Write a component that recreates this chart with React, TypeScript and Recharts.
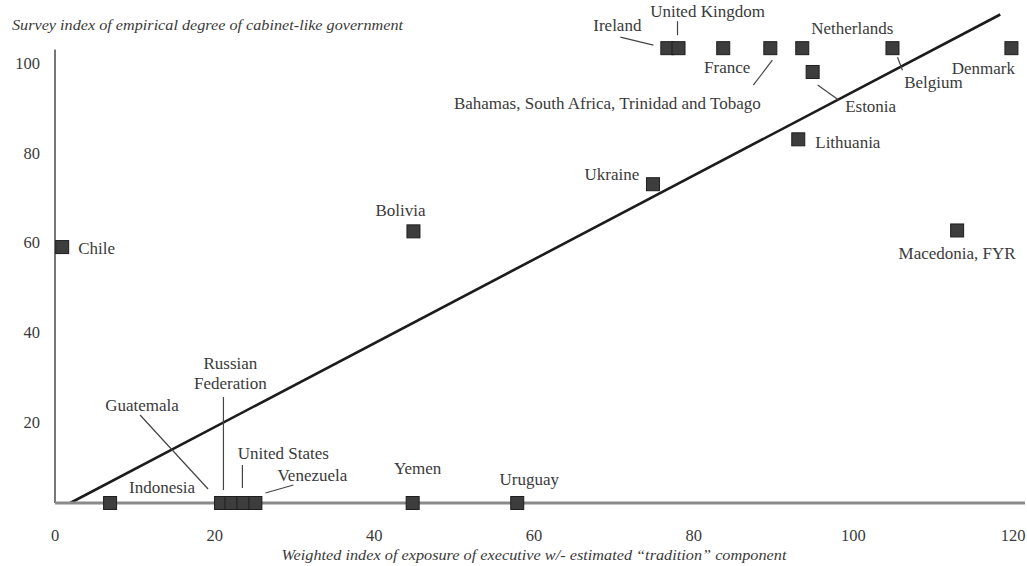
import { ScatterChart, Scatter, XAxis, YAxis, ReferenceLine } from 'recharts'

// countries
const countries = [
  'Chile', 'Indonesia', 'Guatemala', 'Russian Federation', 'United States', 'Venezuela',
  'Yemen', 'Uruguay', 'Bolivia', 'Ukraine', 'Lithuania', 'Macedonia, FYR', 'Estonia',
  'Ireland', 'United Kingdom', 'France', 'Bahamas, South Africa, Trinidad and Tobago',
  'Netherlands', 'Belgium', 'Denmark',
]
// weighted index of exposure of executive (x)
const exposure = [0.9, 6.9, 20.8, 22.1, 23.6, 25.1, 44.8, 57.9, 44.9, 74.9, 93.1, 113, 94.9, 76.7, 78.1, 83.7, 89.6, 93.6, 104.9, 119.8]
// survey index of cabinet-like government (y)
const cabinetIndex = [59, 2, 2, 2, 2, 2, 2, 2, 62.5, 73, 83, 62.7, 98, 103.3, 103.3, 103.3, 103.3, 103.3, 103.3, 103.3]

const xTicks = [0, 20, 40, 60, 80, 100, 120]
const yTicks = [20, 40, 60, 80, 100]
const fitLine = [{ x: 1.9, y: 2 }, { x: 118.4, y: 110.8 }]

const data = countries.map((name, i) => ({ name, x: exposure[i], y: cabinetIndex[i] }))

const FONT = '"Liberation Serif", "Times New Roman", serif'
const INK = '#3a3a3a'

type Spot = { dx: number; dy: number; anchor?: 'start' | 'middle' | 'end'; lines?: string[]; lead?: number[] }

// where each name sits relative to its marker (px)
const labelSpots: Record<string, Spot> = {
  'Chile': { dx: 16, dy: 1, anchor: 'start' },
  'Indonesia': { dx: 52, dy: -16 },
  'Guatemala': { dx: -79, dy: -98, lead: [-81, -88, -13, -14] },
  'Russian Federation': { dx: -1, dy: -140, lines: ['Russian', 'Federation'], lead: [-8, -106, -8, -13] },
  'United States': { dx: 40, dy: -50, lead: [-1, -38, -1, -15] },
  'Venezuela': { dx: 57, dy: -28, lead: [10, -10, 38, -18] },
  'Yemen': { dx: 5, dy: -35 },
  'Uruguay': { dx: 12, dy: -24 },
  'Bolivia': { dx: -13, dy: -21 },
  'Ukraine': { dx: -41, dy: -10 },
  'Lithuania': { dx: 17, dy: 3, anchor: 'start' },
  'Macedonia, FYR': { dx: 0, dy: 23 },
  'Estonia': { dx: 58, dy: 35, lead: [5, 13, 26, 28] },
  'Ireland': { dx: -50, dy: -23, lead: [-47, -11, -14, -3] },
  'United Kingdom': { dx: 29, dy: -37, lead: [-1, -27, -1, -13] },
  'France': { dx: 4, dy: 19 },
  'Bahamas, South Africa, Trinidad and Tobago': { dx: -163, dy: 55, lead: [2, 12, -17, 37] },
  'Netherlands': { dx: 50, dy: -20 },
  'Belgium': { dx: 41, dy: 34, lead: [5, 9, 10, 22] },
  'Denmark': { dx: -28, dy: 20 },
}

function Marker(props: any) {
  const { cx, cy, payload } = props
  const spot = labelSpots[payload.name]
  const lines = spot?.lines ?? [payload.name]
  return (
    <g>
      {spot?.lead && (
        <line
          x1={cx + spot.lead[0]} y1={cy + spot.lead[1]}
          x2={cx + spot.lead[2]} y2={cy + spot.lead[3]}
          stroke="#444" strokeWidth={1.2}
        />
      )}
      <rect x={cx - 6.5} y={cy - 6.5} width={13} height={13} fill="#3d3d3d" stroke="#1e1e1e" strokeWidth={1} />
      {spot && lines.map((t, k) => (
        <text
          key={k}
          x={cx + spot.dx}
          y={cy + spot.dy + k * 20}
          textAnchor={spot.anchor ?? 'middle'}
          dominantBaseline="central"
          fontFamily={FONT}
          fontSize={17}
          fill={INK}
        >
          {t}
        </text>
      ))}
    </g>
  )
}

function YTitle() {
  return (
    <text x={12} y={25} dominantBaseline="central" fontFamily={FONT} fontStyle="italic" fontSize={15}
      fill={INK} textLength={391} lengthAdjust="spacingAndGlyphs">
      Survey index of empirical degree of cabinet-like government
    </text>
  )
}

function XTitle() {
  return (
    <text x={534} y={555} textAnchor="middle" dominantBaseline="central" fontFamily={FONT} fontStyle="italic"
      fontSize={14} fill={INK} textLength={505} lengthAdjust="spacingAndGlyphs">
      Weighted index of exposure of executive w/- estimated “tradition” component
    </text>
  )
}

export default function App() {
  return (
    <>
      {/* drop the default body margin so the chart fills the window exactly */}
      <style>{'html,body{margin:0;padding:0;overflow:hidden}'}</style>
      <ScatterChart width={1027} height={566} margin={{ top: 13.6, right: 2, bottom: 0, left: 0 }}>
        <XAxis
          type="number"
          dataKey="x"
          domain={[0, 121.5]}
          ticks={xTicks}
          tickLine={false}
          tickSize={0}
          tickMargin={26}
          height={63}
          axisLine={{ stroke: '#8a8a8a', strokeWidth: 3 }}
          tick={{ fontFamily: FONT, fontSize: 16.5, fill: INK }}
          label={<XTitle />}
        />
        <YAxis
          type="number"
          dataKey="y"
          domain={[2, 111]}
          ticks={yTicks}
          width={55}
          tickLine={false}
          tickSize={0}
          tickMargin={15}
          axisLine={false}
          tick={{ fontFamily: FONT, fontSize: 16.5, fill: INK }}
          label={<YTitle />}
        />
        <ReferenceLine segment={[{ x: 0, y: 2 }, { x: 0, y: 103 }]} stroke="#555" strokeWidth={1.6} ifOverflow="visible" />
        <ReferenceLine segment={fitLine} stroke="#1c1c1c" strokeWidth={2.6} ifOverflow="visible" />
        <Scatter data={data} shape={<Marker />} isAnimationActive={false} />
      </ScatterChart>
    </>
  )
}
